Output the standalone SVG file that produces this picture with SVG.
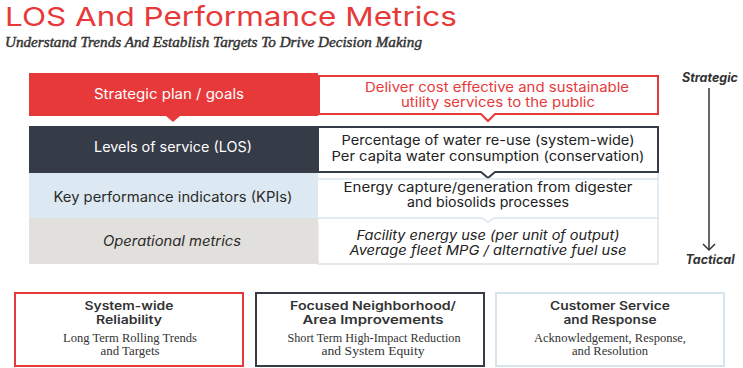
<svg xmlns="http://www.w3.org/2000/svg" width="743" height="368" viewBox="0 0 743 368">
<style>
.sans{font-family:Inter,"Open Sans","DejaVu Sans",sans-serif;font-weight:400}
.serif{font-family:"Liberation Serif","Times New Roman",serif}
.lt{font-size:14px;text-anchor:middle}
.rt{font-size:13.5px;text-anchor:middle;fill:#222}
.hd{font-size:11.5px;font-weight:600;text-anchor:middle;fill:#333}
.sb{font-size:12px;text-anchor:middle;fill:#333}
.ax{font-family:Inter,"Open Sans",sans-serif;font-size:12.5px;font-weight:700;font-style:italic;fill:#333;text-anchor:middle}
</style>
<rect width="743" height="368" fill="#fff"/>
<text x="5" y="26" class="sans" font-size="26" font-weight="500" fill="#e8393a" textLength="452" lengthAdjust="spacingAndGlyphs">LOS And Performance Metrics</text>
<text x="5" y="47" class="serif" font-size="15" font-style="italic" fill="#333" stroke="#333" stroke-width="0.45" textLength="417" lengthAdjust="spacingAndGlyphs">Understand Trends And Establish Targets To Drive Decision Making</text>

<g id="row-strategic">
<rect x="29" y="73" width="289" height="43" fill="#e8393a"/>
<polygon points="166,116 180,116 173,122" fill="#e8393a"/>
<text x="169" y="99" class="sans lt" fill="#fff" textLength="150" lengthAdjust="spacingAndGlyphs">Strategic plan / goals</text>
<path d="M319,76 H658 V114 H495 L488,121 L481,114 H319 Z" fill="#fff" stroke="#e8393a" stroke-width="2"/>
<text x="497" y="92" class="sans" font-size="13.5" font-weight="500" fill="#e8393a" text-anchor="middle" textLength="264" lengthAdjust="spacingAndGlyphs">Deliver cost effective and sustainable</text>
<text x="498" y="107" class="sans" font-size="13.5" font-weight="500" fill="#e8393a" text-anchor="middle" textLength="194" lengthAdjust="spacingAndGlyphs">utility services to the public</text>
</g>

<g id="row-los">
<rect x="29" y="126" width="289" height="47" fill="#363b48"/>
<polygon points="166,173 180,173 173,179" fill="#363b48"/>
<text x="173" y="152" class="sans lt" fill="#fff" textLength="158" lengthAdjust="spacingAndGlyphs">Levels of service (LOS)</text>
<path d="M318,127 H658 V172 H495 L488,178 L481,172 H318 Z" fill="#fff" stroke="#363b48" stroke-width="2"/>
<text x="488" y="145" class="sans rt" textLength="293" lengthAdjust="spacingAndGlyphs">Percentage of water re-use (system-wide)</text>
<text x="488" y="161" class="sans rt" textLength="313" lengthAdjust="spacingAndGlyphs">Per capita water consumption (conservation)</text>
</g>

<g id="row-kpi">
<rect x="29" y="173" width="289" height="45" fill="#dde9f2"/>
<polygon points="166,218 180,218 173,223" fill="#dde9f2"/>
<text x="173" y="202" class="sans lt" fill="#2a2a2a" textLength="239" lengthAdjust="spacingAndGlyphs">Key performance indicators (KPIs)</text>
<path d="M318,179 H658 V218 H494 L488,222 L482,218 H318" fill="none" stroke="#d9e6ee" stroke-width="1.5"/>
<line x1="658" y1="173" x2="658" y2="179" stroke="#d9e6ee" stroke-width="1.5"/>
<text x="488" y="192" class="sans rt" textLength="289" lengthAdjust="spacingAndGlyphs">Energy capture/generation from digester</text>
<text x="488" y="207" class="sans rt" textLength="162" lengthAdjust="spacingAndGlyphs">and biosolids processes</text>
</g>

<g id="row-ops">
<rect x="29" y="218" width="289" height="46" fill="#e2e0dc"/>
<path d="M318,223 V264 H658 V218" fill="none" stroke="#e4e2de" stroke-width="1.5"/>
<text x="172" y="246" class="sans lt" font-style="italic" fill="#2a2a2a" textLength="138" lengthAdjust="spacingAndGlyphs">Operational metrics</text>
<text x="488" y="240" class="sans rt" font-style="italic" textLength="263" lengthAdjust="spacingAndGlyphs">Facility energy use (per unit of output)</text>
<text x="488" y="255" class="sans rt" font-style="italic" textLength="277" lengthAdjust="spacingAndGlyphs">Average fleet MPG / alternative fuel use</text>
</g>

<g id="axis">
<text x="710" y="82" class="ax">Strategic</text>
<line x1="709" y1="88" x2="709" y2="250" stroke="#333" stroke-width="1.5"/>
<polyline points="703,244 709,250 715,244" fill="none" stroke="#333" stroke-width="1.5"/>
<text x="710" y="264" class="ax">Tactical</text>
</g>

<g id="box-reliability">
<rect x="15" y="293" width="228" height="73" fill="#fff" stroke="#e8393a" stroke-width="2"/>
<text x="129" y="310" class="sans hd" textLength="89" lengthAdjust="spacingAndGlyphs">System-wide</text>
<text x="129" y="324" class="sans hd" textLength="66" lengthAdjust="spacingAndGlyphs">Reliability</text>
<text x="130" y="342" class="serif sb" textLength="134" lengthAdjust="spacingAndGlyphs">Long Term Rolling Trends</text>
<text x="130" y="355" class="serif sb" textLength="59" lengthAdjust="spacingAndGlyphs">and Targets</text>
</g>

<g id="box-neighborhood">
<rect x="256" y="293" width="228" height="73" fill="#fff" stroke="#363b48" stroke-width="2"/>
<text x="373" y="310" class="sans hd" textLength="166" lengthAdjust="spacingAndGlyphs">Focused Neighborhood/</text>
<text x="373" y="324" class="sans hd" textLength="141" lengthAdjust="spacingAndGlyphs">Area Improvements</text>
<text x="374" y="342" class="serif sb" textLength="173" lengthAdjust="spacingAndGlyphs">Short Term High-Impact Reduction</text>
<text x="373" y="355" class="serif sb" textLength="103" lengthAdjust="spacingAndGlyphs">and System Equity</text>
</g>

<g id="box-customer">
<rect x="496" y="293" width="228" height="73" fill="#fff" stroke="#d6e4ec" stroke-width="2"/>
<text x="610" y="310" class="sans hd" textLength="120" lengthAdjust="spacingAndGlyphs">Customer Service</text>
<text x="610" y="324" class="sans hd" textLength="93" lengthAdjust="spacingAndGlyphs">and Response</text>
<text x="610" y="342" class="serif sb" textLength="152" lengthAdjust="spacingAndGlyphs">Acknowledgement, Response,</text>
<text x="610" y="355" class="serif sb" textLength="76" lengthAdjust="spacingAndGlyphs">and Resolution</text>
</g>
</svg>
